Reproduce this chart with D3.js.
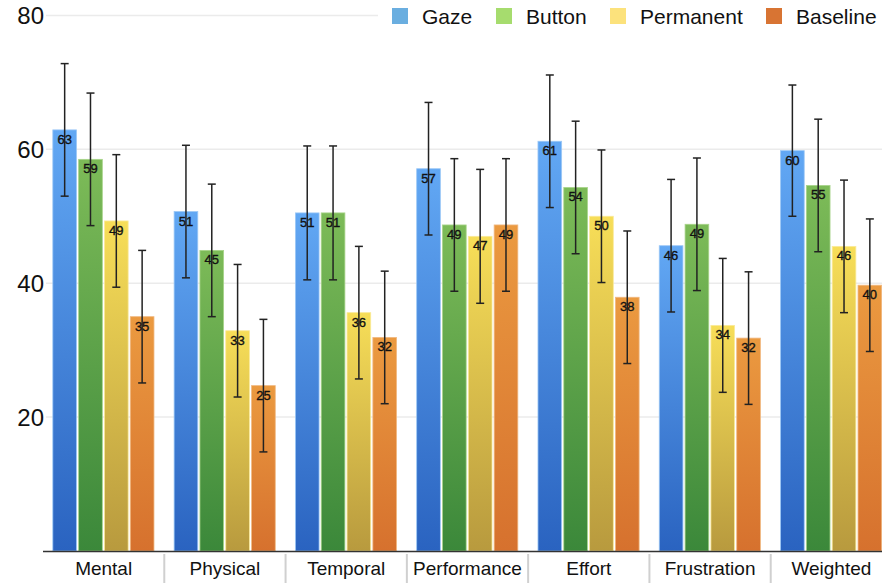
<!DOCTYPE html>
<html>
<head>
<meta charset="utf-8">
<script src="https://cdn.jsdelivr.net/npm/d3@7/dist/d3.min.js"></script>
<style>
  html, body { margin: 0; padding: 0; background: #fff; }
  svg { display: block; font-family: "Liberation Sans", Arial, Helvetica, sans-serif; }
</style>
</head>
<body>
<svg id="chart" width="882" height="583"></svg>
<script>
const categories = ["Mental", "Physical", "Temporal", "Performance", "Effort", "Frustration", "Weighted"];
const seriesNames = ["Gaze", "Button", "Permanent", "Baseline"];
const gaze      = [62.9, 50.7, 50.5, 57.1, 61.2, 45.6, 59.8];
const button    = [58.5, 44.9, 50.5, 48.7, 54.3, 48.8, 54.6];
const permanent = [49.3, 32.9, 35.6, 47.0, 50.0, 33.7, 45.5];
const baseline  = [35.0, 24.7, 31.9, 48.7, 37.9, 31.8, 39.7];
const gazeErr      = [9.9, 9.9, 10.0, 9.9, 9.9, 9.9, 9.8];
const buttonErr    = [9.9, 9.9, 10.0, 9.9, 9.9, 9.9, 9.9];
const permanentErr = [9.9, 9.9, 9.9, 10.0, 9.9, 10.0, 9.9];
const baselineErr  = [9.9, 9.9, 9.9, 9.9, 9.9, 9.9, 9.9];
const yTicks = [20, 40, 60, 80];

const seriesValues = [gaze, button, permanent, baseline];
const seriesErrors = [gazeErr, buttonErr, permanentErr, baselineErr];
const legendColors = ["#6aaee0", "#a6dc6e", "#fce27c", "#d87433"];
const gradTop    = ["#62a8f4", "#7dbb58", "#f7de58", "#eb9a40"];
const gradBottom = ["#2a63c0", "#3b883a", "#b89a3e", "#d6712e"];
const strokeCols = ["#9cc8f6", "#a8d48a", "#faea9a", "#f0b880"];

const svg = d3.select("#chart");
const W = 882, H = 583;

const y = d3.scaleLinear().domain([0, 80]).range([551, 15.4]);
const x0 = d3.scaleBand().domain(categories).range([43, 892]).paddingInner(0).paddingOuter(0);
const bw = x0.bandwidth();
const x1 = d3.scaleBand().domain(seriesNames)
  .range([0.081 * bw, 0.081 * bw + 4 * 0.2085 * bw])
  .paddingInner(0.083).paddingOuter(0);

const defs = svg.append("defs");
seriesNames.forEach((s, i) => {
  const g = defs.append("linearGradient").attr("id", "grad" + i)
    .attr("x1", 0).attr("y1", 0).attr("x2", 0).attr("y2", 1);
  g.append("stop").attr("offset", "0%").attr("stop-color", gradTop[i]);
  g.append("stop").attr("offset", "100%").attr("stop-color", gradBottom[i]);
});

svg.append("g").selectAll("line").data(yTicks).join("line")
  .attr("x1", 46).attr("x2", W)
  .attr("y1", d => y(d)).attr("y2", d => y(d))
  .attr("stroke", "#ebebeb").attr("stroke-width", 1.5);

svg.append("g").selectAll("text").data(yTicks).join("text")
  .attr("x", 44).attr("y", d => y(d))
  .attr("text-anchor", "end").attr("dominant-baseline", "central")
  .attr("font-size", 24).attr("fill", "#111")
  .text(d => d);

const groups = svg.append("g").selectAll("g").data(categories).join("g")
  .attr("transform", d => `translate(${x0(d)},0)`);

groups.each(function(cat, ci) {
  const g = d3.select(this);
  seriesNames.forEach((s, si) => {
    const v = seriesValues[si][ci];
    const e = seriesErrors[si][ci];
    const bx = x1(s), bwid = x1.bandwidth();
    g.append("rect")
      .attr("x", bx).attr("y", y(v))
      .attr("width", bwid).attr("height", y(0) - y(v))
      .attr("fill", `url(#grad${si})`)
      .attr("stroke", strokeCols[si]).attr("stroke-width", 0.8);
    const cx = bx + bwid / 2;
    g.append("text")
      .attr("x", cx).attr("y", y(v) + 14)
      .attr("text-anchor", "middle").attr("font-size", 13)
      .attr("fill", "#111").attr("stroke", "#111").attr("stroke-width", 0.35)
      .text(Math.round(v));
    g.append("line").attr("x1", cx).attr("x2", cx)
      .attr("y1", y(v + e)).attr("y2", y(v - e))
      .attr("stroke", "#222").attr("stroke-width", 1.5);
    [v + e, v - e].forEach(val => {
      g.append("line").attr("x1", cx - 4).attr("x2", cx + 4)
        .attr("y1", y(val)).attr("y2", y(val))
        .attr("stroke", "#222").attr("stroke-width", 1.5);
    });
  });
});

svg.append("line").attr("x1", 43).attr("x2", W)
  .attr("y1", y(0) + 0.5).attr("y2", y(0) + 0.5)
  .attr("stroke", "#333").attr("stroke-width", 1.5);

svg.append("g").selectAll("line").data(categories.slice(1)).join("line")
  .attr("x1", d => x0(d)).attr("x2", d => x0(d))
  .attr("y1", 554).attr("y2", H)
  .attr("stroke", "#d0d0d0").attr("stroke-width", 2);

svg.append("g").selectAll("text").data(categories).join("text")
  .attr("x", d => x0(d) + bw / 2).attr("y", 575)
  .attr("text-anchor", "middle").attr("font-size", 19).attr("fill", "#111")
  .text(d => d);

const legend = svg.append("g");
legend.append("rect").attr("x", 378).attr("y", 0).attr("width", W - 378).attr("height", 32).attr("fill", "#fff");
const legX = [392, 496, 610, 766];
seriesNames.forEach((s, i) => {
  legend.append("rect").attr("x", legX[i]).attr("y", 8).attr("width", 16).attr("height", 16)
    .attr("fill", legendColors[i]);
  legend.append("text").attr("x", legX[i] + 30).attr("y", 24)
    .attr("font-size", 21).attr("fill", "#111").text(s);
});
</script>
</body>
</html>
